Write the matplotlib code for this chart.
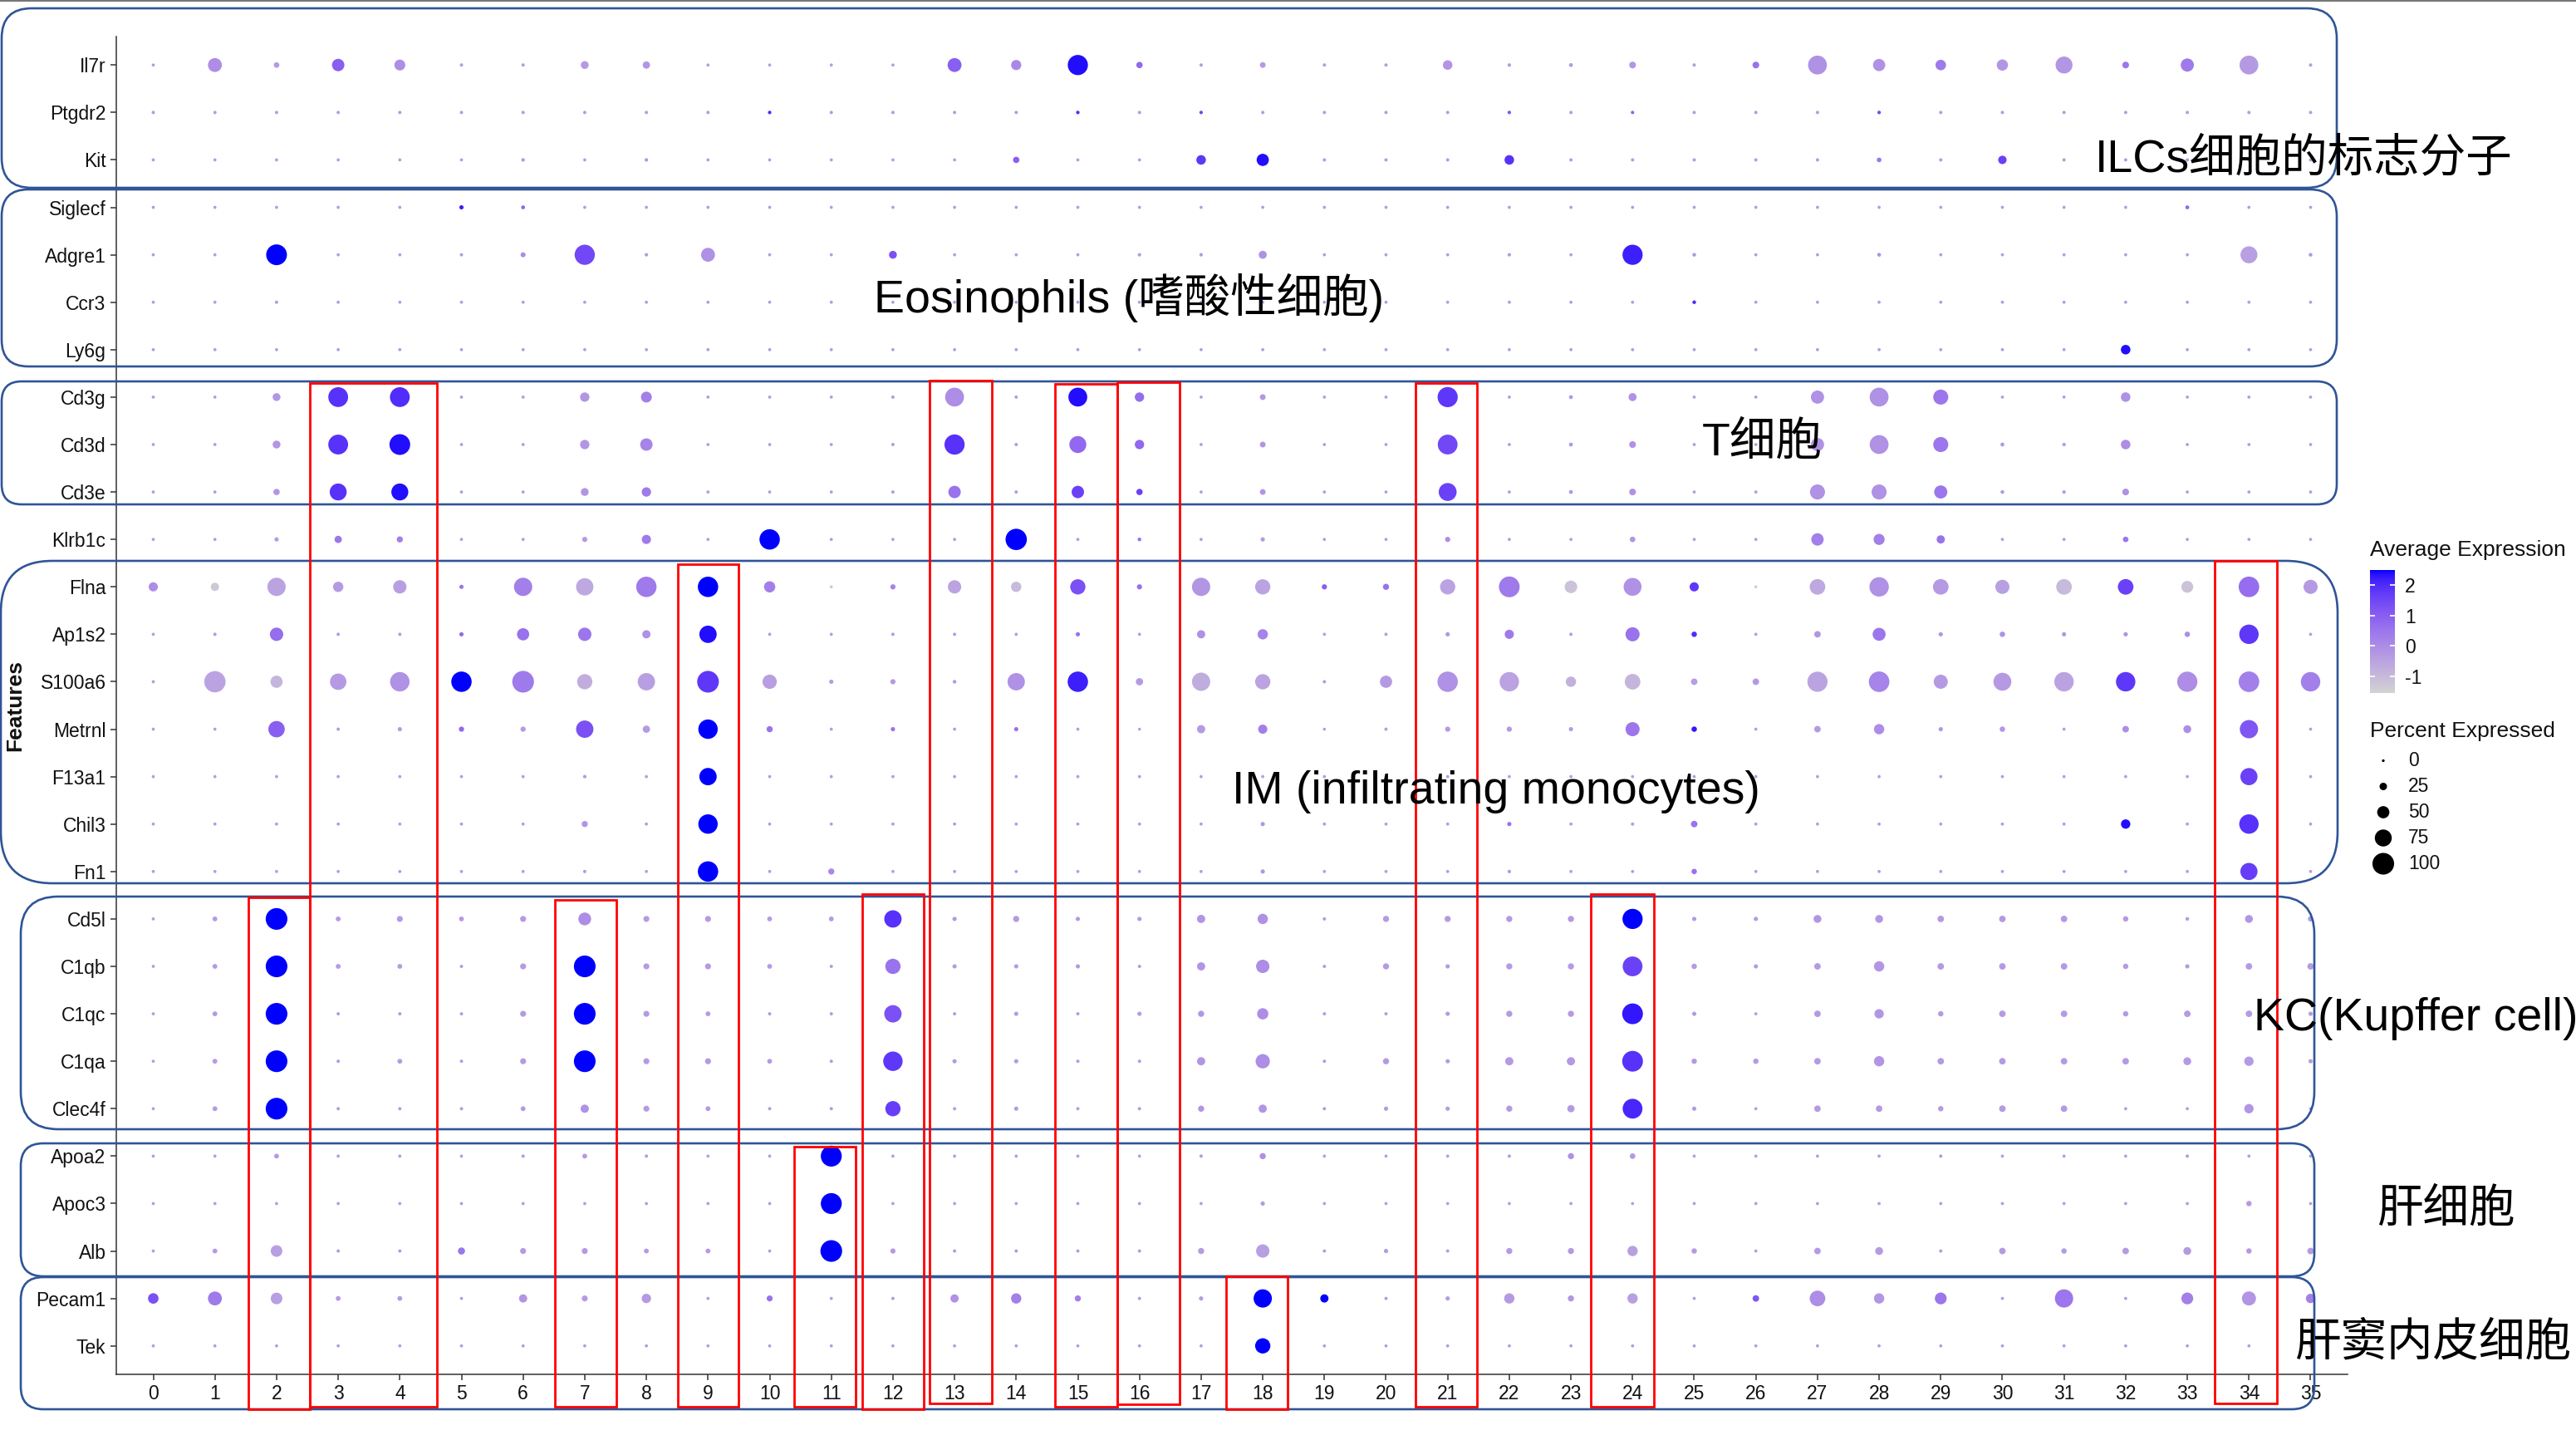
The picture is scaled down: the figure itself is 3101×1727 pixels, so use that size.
import numpy as np
import matplotlib
matplotlib.use("Agg")
import matplotlib.pyplot as plt
from matplotlib.colors import ListedColormap, Normalize
from matplotlib.patches import FancyBboxPatch, Rectangle
from matplotlib.transforms import IdentityTransform
from matplotlib.lines import Line2D

# ---------------- data ----------------
clusters = ['0', '1', '2', '3', '4', '5', '6', '7', '8', '9', '10', '11', '12', '13', '14', '15', '16', '17',
            '18', '19', '20', '21', '22', '23', '24', '25', '26', '27', '28', '29', '30', '31', '32', '33', '34', '35']
genes = ['Il7r', 'Ptgdr2', 'Kit', 'Siglecf', 'Adgre1', 'Ccr3', 'Ly6g', 'Cd3g', 'Cd3d', 'Cd3e', 'Klrb1c',
         'Flna', 'Ap1s2', 'S100a6', 'Metrnl', 'F13a1', 'Chil3', 'Fn1', 'Cd5l', 'C1qb', 'C1qc', 'C1qa',
         'Clec4f', 'Apoa2', 'Apoc3', 'Alb', 'Pecam1', 'Tek']

# percent expressed per gene (clusters 0..35)
pct_Il7r = [2, 59, 15, 51, 43, 3, 3, 27, 24, 2, 2, 2, 2, 59, 39, 92, 19, 3, 16, 3, 3, 36, 4, 6, 21, 3, 21, 85, 50, 41, 45, 75, 21, 55, 85, 3]
pct_Ptgdr2 = [3, 3, 3, 3, 3, 3, 3, 3, 3, 3, 4, 3, 3, 3, 3, 4, 3, 4, 3, 3, 3, 3, 4, 3, 3, 3, 3, 3, 4, 3, 3, 3, 3, 3, 3, 3]
pct_Kit = [2, 2, 2, 2, 2, 2, 4, 2, 4, 2, 2, 2, 2, 2, 19, 2, 2, 36, 50, 3, 3, 3, 36, 3, 3, 3, 3, 3, 10, 3, 30, 3, 3, 3, 3, 3]
pct_Siglecf = [2, 2, 2, 2, 2, 8, 6, 2, 2, 2, 2, 2, 2, 2, 2, 2, 2, 2, 2, 2, 2, 2, 2, 2, 2, 2, 2, 2, 2, 2, 2, 2, 2, 6, 2, 2]
pct_Adgre1 = [2, 2, 95, 2, 2, 3, 12, 92, 4, 59, 2, 2, 27, 2, 2, 2, 4, 4, 28, 2, 2, 2, 4, 2, 92, 5, 2, 2, 6, 2, 2, 2, 2, 2, 75, 5]
pct_Ccr3 = [2, 2, 3, 2, 2, 2, 2, 2, 2, 2, 2, 2, 2, 2, 2, 2, 2, 2, 2, 2, 2, 2, 2, 2, 2, 5, 2, 2, 2, 2, 2, 2, 2, 2, 2, 2]
pct_Ly6g = [2, 2, 2, 2, 2, 2, 2, 2, 2, 2, 2, 2, 2, 2, 2, 2, 2, 2, 2, 2, 2, 2, 2, 2, 2, 2, 2, 2, 2, 2, 2, 2, 36, 2, 2, 2]
pct_Cd3g = [2, 2, 27, 90, 90, 2, 2, 35, 43, 2, 2, 2, 3, 85, 3, 85, 35, 2, 16, 2, 2, 92, 2, 6, 28, 2, 2, 55, 85, 65, 2, 2, 36, 2, 2, 2]
pct_Cd3d = [2, 2, 27, 90, 95, 2, 2, 35, 51, 2, 2, 2, 3, 92, 3, 75, 35, 2, 16, 2, 2, 90, 2, 6, 21, 2, 2, 55, 85, 65, 6, 4, 36, 2, 2, 2]
pct_Cd3e = [2, 2, 19, 75, 75, 2, 2, 27, 35, 2, 2, 2, 3, 51, 3, 51, 19, 2, 16, 2, 2, 80, 2, 6, 21, 2, 2, 65, 65, 55, 5, 4, 21, 2, 2, 2]
pct_Klrb1c = [2, 2, 8, 24, 18, 2, 2, 13, 34, 2, 93, 2, 2, 2, 98, 2, 5, 2, 8, 2, 2, 13, 2, 2, 15, 2, 2, 51, 44, 29, 2, 2, 15, 2, 2, 2]
pct_Flna = [34, 29, 82, 40, 56, 8, 82, 77, 93, 93, 45, 2, 13, 56, 40, 66, 13, 82, 66, 13, 18, 66, 95, 52, 80, 34, 1, 68, 88, 68, 60, 68, 68, 48, 94, 60]
pct_Ap1s2 = [2, 3, 56, 3, 3, 8, 50, 56, 29, 77, 2, 2, 3, 3, 2, 8, 2, 29, 40, 2, 3, 8, 34, 3, 60, 14, 2, 20, 54, 8, 14, 8, 8, 14, 88, 2]
pct_S100a6 = [2, 98, 50, 72, 88, 93, 100, 66, 77, 100, 61, 8, 13, 5, 77, 93, 24, 82, 66, 3, 50, 93, 88, 40, 68, 20, 20, 92, 94, 60, 80, 88, 88, 92, 94, 88]
pct_Metrnl = [2, 2, 72, 3, 8, 13, 13, 77, 24, 88, 18, 2, 8, 2, 8, 2, 1, 29, 34, 1, 3, 13, 13, 8, 60, 14, 2, 20, 40, 8, 14, 2, 20, 27, 82, 2]
pct_F13a1 = [2, 2, 2, 2, 2, 2, 2, 4, 2, 77, 2, 2, 2, 2, 2, 2, 2, 2, 2, 2, 2, 2, 2, 2, 2, 2, 2, 2, 2, 2, 2, 2, 2, 2, 76, 2]
pct_Chil3 = [2, 2, 2, 2, 2, 2, 2, 18, 2, 88, 2, 2, 2, 2, 2, 2, 2, 2, 8, 2, 2, 2, 8, 2, 3, 20, 2, 2, 2, 2, 2, 2, 35, 2, 88, 2]
pct_Fn1 = [2, 2, 2, 2, 2, 2, 2, 3, 2, 93, 2, 18, 2, 2, 2, 2, 2, 2, 8, 2, 2, 2, 4, 2, 2, 14, 2, 2, 2, 2, 2, 2, 2, 2, 76, 2]
pct_Cd5l = [2, 11, 100, 11, 17, 11, 17, 53, 17, 17, 11, 11, 77, 8, 18, 8, 8, 29, 40, 3, 18, 18, 18, 18, 92, 8, 8, 27, 27, 20, 20, 20, 14, 5, 27, 14]
pct_C1qb = [2, 11, 100, 11, 11, 3, 17, 100, 17, 17, 11, 3, 66, 8, 8, 8, 3, 29, 56, 3, 18, 8, 18, 18, 90, 14, 8, 20, 40, 20, 20, 20, 14, 8, 20, 20]
pct_C1qc = [2, 11, 100, 3, 3, 3, 17, 100, 17, 11, 3, 3, 77, 3, 8, 3, 8, 18, 45, 3, 3, 8, 18, 18, 95, 8, 2, 20, 35, 14, 20, 20, 14, 20, 20, 8]
pct_C1qa = [2, 11, 100, 3, 11, 3, 17, 100, 17, 17, 11, 3, 88, 8, 8, 3, 3, 29, 61, 3, 18, 8, 29, 29, 95, 14, 14, 20, 40, 20, 20, 20, 20, 27, 35, 8]
pct_Clec4f = [2, 11, 100, 3, 3, 3, 11, 29, 17, 11, 3, 3, 66, 3, 8, 3, 3, 18, 29, 3, 8, 8, 18, 24, 90, 8, 2, 20, 20, 14, 20, 20, 2, 2, 35, 2]
pct_Apoa2 = [2, 2, 11, 2, 2, 2, 3, 11, 3, 2, 2, 96, 2, 2, 2, 2, 2, 3, 18, 2, 2, 2, 3, 18, 15, 2, 2, 2, 2, 3, 2, 2, 2, 3, 2, 2]
pct_Apoc3 = [2, 2, 2, 2, 2, 2, 2, 2, 2, 2, 2, 96, 2, 2, 2, 2, 2, 2, 8, 2, 2, 2, 2, 2, 2, 2, 2, 2, 2, 2, 2, 2, 2, 2, 14, 2]
pct_Alb = [2, 11, 47, 3, 3, 23, 17, 17, 11, 11, 2, 100, 13, 3, 3, 3, 3, 18, 56, 3, 8, 3, 18, 18, 40, 14, 2, 20, 27, 3, 20, 14, 20, 27, 14, 20]
pct_Pecam1 = [41, 59, 47, 11, 11, 2, 29, 17, 35, 2, 17, 2, 3, 29, 40, 18, 3, 8, 82, 29, 3, 8, 40, 18, 40, 2, 20, 68, 40, 48, 2, 82, 2, 48, 60, 35]
pct_Tek = [2, 2, 2, 2, 2, 2, 2, 2, 2, 2, 2, 2, 2, 2, 2, 2, 2, 2, 66, 2, 2, 2, 2, 2, 2, 2, 2, 2, 2, 2, 2, 2, 2, 2, 2, 2]

# scaled average expression per gene (clusters 0..35)
exp_Il7r = [-0.3, 0.0, -0.3, 1.0, 0.0, -0.3, -0.3, -0.3, -0.2, -0.3, -0.3, -0.3, -0.3, 1.0, 0.1, 2.4, 0.8, -0.3, -0.3, -0.3, -0.3, -0.2, -0.3, -0.3, -0.2, -0.3, 0.6, -0.1, -0.1, 0.4, -0.2, -0.2, 0.5, 0.4, -0.3, -0.3]
exp_Ptgdr2 = [-0.3, -0.3, -0.3, -0.3, -0.3, -0.3, -0.3, -0.3, -0.3, -0.3, 2.0, -0.3, -0.3, -0.3, -0.3, 2.0, -0.3, 1.5, -0.3, -0.3, -0.3, -0.3, 1.2, -0.3, 1.0, -0.3, -0.3, -0.3, 1.5, -0.3, -0.3, -0.3, -0.3, -0.3, -0.3, -0.3]
exp_Kit = [-0.3, -0.3, -0.3, -0.3, -0.3, -0.3, -0.2, -0.3, -0.2, -0.3, -0.3, -0.3, -0.3, -0.3, 1.0, -0.3, -0.3, 1.8, 2.4, -0.3, -0.3, -0.3, 1.9, -0.3, -0.3, -0.3, -0.3, -0.3, 0.5, -0.3, 1.6, -0.3, -0.3, -0.3, -0.3, -0.3]
exp_Siglecf = [-0.3, -0.3, -0.3, -0.3, -0.3, 2.2, 0.8, -0.3, -0.3, -0.3, -0.3, -0.3, -0.3, -0.3, -0.3, -0.3, -0.3, -0.3, -0.3, -0.3, -0.3, -0.3, -0.3, -0.3, -0.3, -0.3, -0.3, -0.3, -0.3, -0.3, -0.3, -0.3, -0.3, 0.8, -0.3, -0.3]
exp_Adgre1 = [-0.3, -0.3, 2.5, -0.3, -0.3, -0.3, 0.0, 1.5, -0.3, -0.1, -0.3, -0.3, 1.3, -0.3, -0.3, -0.3, -0.3, -0.3, -0.1, -0.3, -0.3, -0.3, -0.3, -0.3, 2.2, -0.2, -0.3, -0.3, -0.2, -0.3, -0.3, -0.3, -0.3, -0.3, -0.4, -0.2]
exp_Ccr3 = [-0.3, -0.3, -0.3, -0.3, -0.3, -0.3, -0.3, -0.3, -0.3, -0.3, -0.3, -0.3, -0.3, -0.3, -0.3, -0.3, -0.3, -0.3, -0.3, -0.3, -0.3, -0.3, -0.3, -0.3, -0.3, 2.0, -0.3, -0.3, -0.3, -0.3, -0.3, -0.3, -0.3, -0.3, -0.3, -0.3]
exp_Ly6g = [-0.3, -0.3, -0.3, -0.3, -0.3, -0.3, -0.3, -0.3, -0.3, -0.3, -0.3, -0.3, -0.3, -0.3, -0.3, -0.3, -0.3, -0.3, -0.3, -0.3, -0.3, -0.3, -0.3, -0.3, -0.3, -0.3, -0.3, -0.3, -0.3, -0.3, -0.3, -0.3, 2.4, -0.3, -0.3, -0.3]
exp_Cd3g = [-0.3, -0.3, -0.2, 1.9, 2.0, -0.3, -0.3, -0.2, 0.3, -0.3, -0.3, -0.3, -0.3, 0.0, -0.3, 2.4, 0.7, -0.3, -0.2, -0.3, -0.3, 1.8, -0.3, -0.2, -0.1, -0.3, -0.3, -0.1, -0.1, 0.5, -0.3, -0.3, -0.1, -0.3, -0.3, -0.3]
exp_Cd3d = [-0.3, -0.3, -0.2, 1.9, 2.4, -0.3, -0.3, -0.2, 0.2, -0.3, -0.3, -0.3, -0.3, 1.9, -0.3, 0.8, 0.8, -0.3, -0.2, -0.3, -0.3, 1.5, -0.3, -0.2, -0.1, -0.3, -0.3, -0.1, -0.1, 0.5, -0.2, -0.3, 0.0, -0.3, -0.3, -0.3]
exp_Cd3e = [-0.3, -0.3, -0.2, 1.9, 2.4, -0.3, -0.3, -0.2, 0.4, -0.3, -0.3, -0.3, -0.3, 0.6, -0.3, 1.6, 1.6, -0.3, -0.2, -0.3, -0.3, 1.6, -0.3, -0.2, -0.1, -0.3, -0.3, -0.1, -0.1, 0.5, -0.2, -0.3, -0.1, -0.3, -0.3, -0.3]
exp_Klrb1c = [-0.3, -0.3, -0.3, 0.5, 0.3, -0.3, -0.3, -0.3, 0.4, -0.3, 2.5, -0.3, -0.3, -0.3, 2.5, -0.3, 0.6, -0.3, -0.3, -0.3, -0.3, 0.0, -0.3, -0.3, -0.2, -0.3, -0.3, 0.3, 0.3, 0.6, -0.3, -0.3, 0.5, -0.3, -0.3, -0.3]
exp_Flna = [0.0, -1.3, -0.5, -0.3, -0.4, 0.5, 0.3, -0.6, 0.4, 2.5, 0.3, -1.3, 0.2, -0.5, -1.0, 1.3, 0.6, -0.2, -0.5, 1.0, 0.6, -0.5, 0.4, -1.2, -0.1, 1.8, -1.3, -0.6, -0.1, -0.3, -0.4, -1.0, 1.6, -1.2, 0.7, -0.3]
exp_Ap1s2 = [-0.3, -0.3, 0.7, -0.3, -0.3, 0.8, 0.6, 0.5, -0.1, 2.4, -0.3, -0.3, -0.3, -0.3, -0.3, 0.6, -0.3, -0.1, 0.2, -0.3, -0.3, -0.2, 0.4, -0.3, 0.6, 2.0, -0.3, -0.2, 0.5, -0.2, -0.1, -0.2, -0.1, 0.0, 1.8, -0.3]
exp_S100a6 = [-0.3, -0.5, -0.9, -0.3, -0.1, 2.5, 0.4, -0.7, -0.4, 1.8, -0.4, -0.3, -0.3, -0.3, -0.1, 2.2, -0.3, -0.7, -0.5, -0.3, -0.3, -0.1, -0.5, -0.8, -0.9, -0.4, -0.3, -0.5, 0.2, -0.3, -0.3, -0.5, 1.8, 0.0, 0.3, 0.3]
exp_Metrnl = [-0.3, -0.3, 1.0, -0.3, -0.3, 0.8, -0.3, 1.3, -0.3, 2.5, 0.6, -0.3, 0.6, -0.3, 0.6, -0.3, -0.3, -0.3, 0.3, -0.3, -0.3, -0.3, -0.3, -0.3, 0.5, 2.3, -0.3, -0.3, 0.0, -0.2, -0.2, -0.3, 0.0, 0.0, 1.2, -0.3]
exp_F13a1 = [-0.3, -0.3, -0.3, -0.3, -0.3, -0.3, -0.3, -0.3, -0.3, 2.5, -0.3, -0.3, -0.3, -0.3, -0.3, -0.3, -0.3, -0.3, -0.3, -0.3, -0.3, -0.3, -0.3, -0.3, -0.3, -0.3, -0.3, -0.3, -0.3, -0.3, -0.3, -0.3, -0.3, -0.3, 1.6, -0.3]
exp_Chil3 = [-0.3, -0.3, -0.3, -0.3, -0.3, -0.3, -0.3, -0.2, -0.3, 2.5, -0.3, -0.3, -0.3, -0.3, -0.3, -0.3, -0.3, -0.3, -0.2, -0.3, -0.3, -0.3, 0.6, -0.3, -0.3, 0.6, -0.3, -0.3, -0.3, -0.3, -0.3, -0.3, 2.4, -0.3, 1.9, -0.3]
exp_Fn1 = [-0.3, -0.3, -0.3, -0.3, -0.3, -0.3, -0.3, -0.3, -0.3, 2.5, -0.3, 0.1, -0.3, -0.3, -0.3, -0.3, -0.3, -0.3, -0.2, -0.3, -0.3, -0.3, -0.3, -0.3, -0.3, 0.6, -0.3, -0.3, -0.3, -0.3, -0.3, -0.3, -0.3, -0.3, 1.7, -0.3]
exp_Cd5l = [-0.3, -0.3, 2.5, -0.3, -0.3, -0.3, -0.3, 0.0, -0.3, -0.3, -0.3, -0.3, 1.9, -0.3, -0.3, -0.3, -0.3, -0.2, -0.1, -0.3, -0.3, -0.3, -0.3, -0.3, 2.5, -0.3, -0.3, -0.2, -0.2, -0.3, -0.3, -0.3, -0.3, -0.3, -0.2, -0.3]
exp_C1qb = [-0.3, -0.3, 2.5, -0.3, -0.3, -0.3, -0.3, 2.5, -0.3, -0.3, -0.3, -0.3, 0.6, -0.3, -0.3, -0.3, -0.3, -0.2, 0.0, -0.3, -0.3, -0.3, -0.3, -0.3, 1.6, -0.3, -0.3, -0.3, -0.2, -0.3, -0.3, -0.3, -0.3, -0.3, -0.3, -0.3]
exp_C1qc = [-0.3, -0.3, 2.5, -0.3, -0.3, -0.3, -0.3, 2.5, -0.3, -0.3, -0.3, -0.3, 1.3, -0.3, -0.3, -0.3, -0.3, -0.2, 0.0, -0.3, -0.3, -0.3, -0.3, -0.3, 2.3, -0.3, -0.3, -0.3, -0.2, -0.3, -0.3, -0.3, -0.3, -0.3, -0.3, -0.3]
exp_C1qa = [-0.3, -0.3, 2.5, -0.3, -0.3, -0.3, -0.3, 2.5, -0.3, -0.3, -0.3, -0.3, 1.8, -0.3, -0.3, -0.3, -0.3, -0.2, 0.0, -0.3, -0.3, -0.3, -0.3, -0.3, 1.9, -0.3, -0.3, -0.3, -0.2, -0.3, -0.3, -0.3, -0.3, -0.3, -0.3, -0.3]
exp_Clec4f = [-0.3, -0.3, 2.5, -0.3, -0.3, -0.3, -0.3, -0.1, -0.3, -0.3, -0.3, -0.3, 1.7, -0.3, -0.3, -0.3, -0.3, -0.2, -0.2, -0.3, -0.3, -0.3, -0.3, -0.3, 2.1, -0.3, -0.3, -0.3, -0.3, -0.3, -0.3, -0.3, -0.3, -0.3, -0.2, -0.3]
exp_Apoa2 = [-0.3, -0.3, -0.3, -0.3, -0.3, -0.3, -0.3, -0.3, -0.3, -0.3, -0.3, 2.5, -0.3, -0.3, -0.3, -0.3, -0.3, -0.3, -0.1, -0.3, -0.3, -0.3, -0.3, -0.1, -0.3, -0.3, -0.3, -0.3, -0.3, -0.3, -0.3, -0.3, -0.3, -0.3, -0.3, -0.3]
exp_Apoc3 = [-0.3, -0.3, -0.3, -0.3, -0.3, -0.3, -0.3, -0.3, -0.3, -0.3, -0.3, 2.5, -0.3, -0.3, -0.3, -0.3, -0.3, -0.3, -0.3, -0.3, -0.3, -0.3, -0.3, -0.3, -0.3, -0.3, -0.3, -0.3, -0.3, -0.3, -0.3, -0.3, -0.3, -0.3, -0.3, -0.3]
exp_Alb = [-0.3, -0.3, -0.4, -0.3, -0.3, 0.5, -0.3, -0.3, -0.3, -0.3, -0.3, 2.5, -0.3, -0.3, -0.3, -0.3, -0.3, -0.3, -0.4, -0.3, -0.3, -0.3, -0.3, -0.3, -0.4, -0.3, -0.3, -0.3, -0.3, -0.3, -0.3, -0.3, -0.3, -0.3, -0.3, -0.3]
exp_Pecam1 = [1.3, 0.4, -0.4, -0.3, -0.3, -0.3, -0.2, -0.3, -0.3, -0.3, 0.6, -0.3, -0.3, -0.1, 0.3, 0.3, -0.3, -0.3, 2.5, 2.5, -0.3, -0.3, -0.3, -0.2, -0.4, -0.3, 1.2, 0.0, -0.2, 0.5, -0.3, 0.5, -0.3, 0.3, -0.2, 0.3]
exp_Tek = [-0.3, -0.3, -0.3, -0.3, -0.3, -0.3, -0.3, -0.3, -0.3, -0.3, -0.3, -0.3, -0.3, -0.3, -0.3, -0.3, -0.3, -0.3, 2.5, -0.3, -0.3, -0.3, -0.3, -0.3, -0.3, -0.3, -0.3, -0.3, -0.3, -0.3, -0.3, -0.3, -0.3, -0.3, -0.3, -0.3]

color_ticks = [-1, 0, 1, 2]
size_breaks = [0, 25, 50, 75, 100]

group_labels = ['ILCs细胞的标志分子', 'Eosinophils (嗜酸性细胞)', 'T细胞', 'IM (infiltrating monocytes)',
                'KC(Kupffer cell)', '肝细胞', '肝窦内皮细胞']

# ---------------- layout (pixels, top-left origin) ----------------
W, H, DPI = 3101, 1727, 100
AX_L, AX_R, AX_T, AX_B = 140, 2826, 44, 1654
EXP_MIN, EXP_MAX = -1.55, 2.5

pct_rows = [globals()['pct_' + g] for g in genes]
exp_rows = [globals()['exp_' + g] for g in genes]
pct_mat = np.array(pct_rows, dtype=float)
exp_mat = np.array(exp_rows, dtype=float)


def fx(x):
    return x / W


def fy(y):
    return 1 - y / H


def dot_size(p):
    d_px = 3.3 + 0.228 * np.asarray(p, float)
    return (d_px * 72.0 / DPI) ** 2


# ggplot-like Lab gradient lightgrey -> blue
M = np.array([[0.4124564, 0.3575761, 0.1804375],
              [0.2126729, 0.7151522, 0.0721750],
              [0.0193339, 0.1191920, 0.9503041]])
WP = np.array([0.95047, 1.0, 1.08883])


def srgb_to_lab(c):
    c = np.asarray(c, float)
    lin = np.where(c <= 0.04045, c / 12.92, ((c + 0.055) / 1.055) ** 2.4)
    r = (M @ lin) / WP
    f = np.where(r > 216 / 24389, np.cbrt(r), (24389 / 27 * r + 16) / 116)
    return np.array([116 * f[1] - 16, 500 * (f[0] - f[1]), 200 * (f[1] - f[2])])


def lab_to_srgb(lab):
    L, a, b = lab
    fyv = (L + 16) / 116
    fxv = fyv + a / 500
    fzv = fyv - b / 200

    def finv(t):
        return np.where(t ** 3 > 216 / 24389, t ** 3, (116 * t - 16) / (24389 / 27))
    xyz = np.array([finv(fxv), finv(fyv), finv(fzv)]) * WP
    lin = np.clip(np.linalg.inv(M) @ xyz, 0, 1)
    c = np.where(lin <= 0.0031308, 12.92 * lin, 1.055 * lin ** (1 / 2.4) - 0.055)
    return np.clip(c, 0, 1)


lab_lo = srgb_to_lab([211 / 255, 211 / 255, 211 / 255])
lab_hi = srgb_to_lab([0, 0, 1.0])
cols = [lab_to_srgb(lab_lo + t * (lab_hi - lab_lo)) for t in np.linspace(0, 1, 256)]
cmap = ListedColormap(cols)
norm = Normalize(EXP_MIN, EXP_MAX, clip=True)

plt.rcParams['font.family'] = ['Liberation Sans', 'DejaVu Sans']

fig = plt.figure(figsize=(W / DPI, H / DPI), dpi=DPI)
fig.patch.set_facecolor('white')

ax = fig.add_axes([fx(AX_L), fy(AX_B), fx(AX_R - AX_L), (AX_B - AX_T) / H])
n_g, n_c = pct_mat.shape
xi, yi = np.meshgrid(np.arange(n_c), np.arange(n_g))
ax.scatter(xi.ravel(), yi.ravel(), s=dot_size(pct_mat.ravel()), c=exp_mat.ravel(),
           cmap=cmap, norm=norm, linewidths=0, zorder=3)
ax.set_xlim(-0.6, n_c - 0.4)
ax.set_ylim(n_g - 0.4, -0.6)
ax.set_xticks(np.arange(n_c))
ax.set_xticklabels(clusters)
ax.set_yticks(np.arange(n_g))
ax.set_yticklabels(genes)
for s in ['top', 'right']:
    ax.spines[s].set_visible(False)
for s in ['left', 'bottom']:
    ax.spines[s].set_color('#333333')
    ax.spines[s].set_linewidth(1.1)
ax.tick_params(axis='both', length=5, width=1.1, color='#333333', labelsize=16.5,
               labelcolor='#111111', pad=4)
ax.patch.set_alpha(0)

fig.text(fx(18), fy(849), 'Features', rotation=90, ha='center', va='center',
         fontsize=19, fontweight='bold', color='#111111')

# ---------------- legend: colour bar ----------------
cb_ax = fig.add_axes([fx(2853), fy(834), fx(30), 148 / H])
grad = np.linspace(EXP_MIN, EXP_MAX, 300)[:, None]
cb_ax.imshow(grad, aspect='auto', cmap=cmap, norm=norm, origin='lower',
             extent=[0, 1, EXP_MIN, EXP_MAX])
cb_ax.set_xlim(0, 1)
cb_ax.set_ylim(EXP_MIN, EXP_MAX)
cb_ax.set_xticks([])
cb_ax.yaxis.tick_right()
cb_ax.set_yticks(color_ticks)
cb_ax.set_yticklabels([str(v) for v in color_ticks])
cb_ax.tick_params(axis='y', length=0, pad=8.5, labelsize=16.5, labelcolor='#111111')
for s in cb_ax.spines.values():
    s.set_visible(False)
cb_ax.hlines(color_ticks, 0, 0.2, colors='white', linewidth=1.2)
cb_ax.hlines(color_ticks, 0.8, 1.0, colors='white', linewidth=1.2)
fig.text(fx(2853), fy(669), 'Average Expression', ha='left', va='baseline', fontsize=19, color='#111111')

# ---------------- legend: dot size ----------------
fig.text(fx(2853), fy(887), 'Percent Expressed', ha='left', va='baseline', fontsize=19, color='#111111')
sz_ax = fig.add_axes([fx(2850), fy(1055), fx(40), 155 / H])
sz_ax.set_xlim(0, 1)
sz_ax.set_ylim(4.5, -0.5)
sz_ax.axis('off')
yb = np.arange(len(size_breaks))
sz_ax.scatter(np.full(len(size_breaks), 0.475), yb, s=dot_size(size_breaks), c='black', linewidths=0)
for i, v in enumerate(size_breaks):
    sz_ax.text(1.225, i, str(v), ha='left', va='center', fontsize=16.5, color='#111111',
               transform=sz_ax.transData)

# ---------------- annotations ----------------
ident = IdentityTransform()
BLUE = '#2F5597'


def rbox(x0, y0, x1, y1, r, color, lw):
    p = FancyBboxPatch((x0, H - y1), x1 - x0, y1 - y0,
                       boxstyle=f'round,pad=0,rounding_size={r}',
                       transform=ident, fill=False, edgecolor=color, linewidth=lw, zorder=10)
    fig.add_artist(p)


blue_boxes = [(2, 10, 2813, 226, 36), (2, 228, 2813, 441, 32), (2, 459, 2813, 607, 24),
              (1, 675, 2814, 1063, 62), (25, 1079, 2786, 1359, 45), (25, 1376, 2786, 1536, 27),
              (25, 1537, 2786, 1696, 27)]
for b in blue_boxes:
    rbox(*b, BLUE, 1.9)

red_boxes = [(299, 1080, 373, 1696), (373, 461, 526, 1693), (668, 1083, 742, 1693),
             (816, 679, 889, 1693), (956, 1380, 1030, 1693), (1038, 1076, 1112, 1696),
             (1119, 458, 1194, 1689), (1270, 462, 1345, 1693), (1345, 460, 1420, 1690),
             (1476, 1536, 1550, 1696), (1704, 461, 1778, 1693), (1915, 1076, 1991, 1693),
             (2666, 675, 2741, 1689)]
for (x0, y0, x1, y1) in red_boxes:
    fig.add_artist(Rectangle((x0, H - y1), x1 - x0, y1 - y0, transform=ident, fill=False,
                             edgecolor='#FF0000', linewidth=2.0, zorder=11))

label_pos = [(2522, 192), (1052, 358), (2049, 534), (1483, 953), (2713, 1226), (2861, 1457), (2762, 1617)]
for txt, (x, y) in zip(group_labels, label_pos):
    fig.text(fx(x), fy(y), txt, ha='left', va='center', fontsize=40, color='black',
             family=['Liberation Sans', 'Noto Sans CJK SC'], zorder=12)

fig.add_artist(Line2D([0, 1], [fy(1), fy(1)], transform=fig.transFigure, color='#777777', linewidth=1.5))

fig.savefig('out.png', dpi=DPI, facecolor='white')
